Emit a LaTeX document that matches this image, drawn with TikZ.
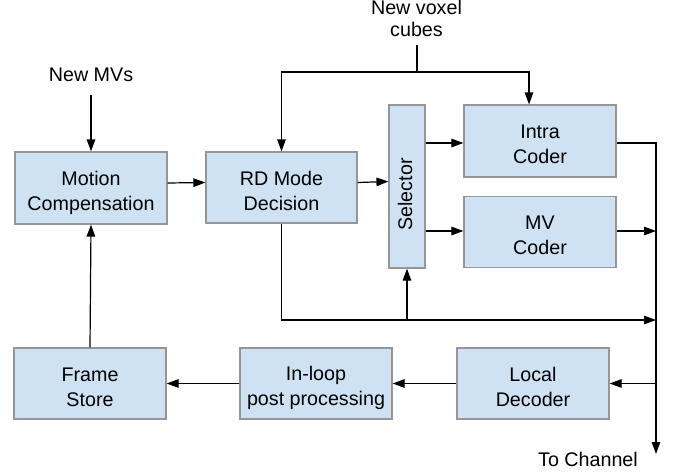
\documentclass[tikz,border=0pt]{standalone}
\usepackage{fontspec}
\setmainfont{Liberation Sans}
\usetikzlibrary{arrows.meta}
\definecolor{boxfill}{RGB}{207,226,243}
\definecolor{boxline}{RGB}{150,150,150}
% two-line caption with fixed top and bottom so every block sets its text alike
\newcommand\pairtext[2]{\rule{0pt}{24pt}#1\\#2\rule[-4pt]{0pt}{4pt}}
\tikzset{
  block/.style={draw=boxline, line width=1.2pt, fill=boxfill, align=center,
    inner sep=0pt, font=\fontsize{19.7}{25}\selectfont},
  lbl/.style={align=center, inner sep=0pt, font=\fontsize{19.7}{21.5}\selectfont},
  wire/.style={line width=1.2pt, black},
  arr/.style={wire, -{Triangle[length=12pt,width=8.5pt]}}
}
\begin{document}
\begin{tikzpicture}[x=1pt,y=-1pt]
\useasboundingbox (0,0) rectangle (677,474);

% processing blocks
\node[block, minimum width=152pt, minimum height=72pt] (mc) at (91,188) {\pairtext{Motion}{Compensation}};
\node[block, minimum width=151pt, minimum height=71pt] (rd) at (281.5,187.5) {\pairtext{RD Mode}{Decision}};
\node[block, minimum width=36pt, minimum height=163pt] (sel) at (407,186.5) {\rotatebox{90}{Selector}\rule{0pt}{88pt}\kern4pt};
\node[block, minimum width=152pt, minimum height=72pt] (intra) at (540,141) {\pairtext{Intra}{Coder}};
\node[block, minimum width=152pt, minimum height=71pt] (mv) at (540,232) {\pairtext{MV}{Coder}};
\node[block, minimum width=152pt, minimum height=71pt] (fs) at (90,383.5) {\pairtext{Frame}{Store}};
\node[block, minimum width=152pt, minimum height=71pt] (ilp) at (316,383.5) {\pairtext{In-loop}{post processing}};
\node[block, minimum width=152pt, minimum height=71pt] (ld) at (533,383.5) {\pairtext{Local}{Decoder}};

% external labels
\node[lbl] (nmv) at (91,75) {New MVs};
\node[lbl] (nvc) at (416.5,18.25) {\rule{0pt}{15pt}New voxel\\cubes};
\node[lbl] (tch) at (588,459) {To Channel};

% routing points
\coordinate (nvtop) at (417,45);
\coordinate (split) at (417,72);
\coordinate (intrain) at (529,72);
\coordinate (ch) at (656,454);
\coordinate (busr) at (656,320);

% input feeds
\draw[arr] (mc.north |- 0,95) -- (mc.north);
\draw[wire] (nvtop) -- (split);
\draw[arr] (split) -| (rd.north);
\draw[arr] (split) -- (intrain) -- (intrain |- intra.north);

% forward path
\draw[arr] ([yshift=5pt]mc.east) -- ([yshift=5pt]rd.west);
\draw[arr] ([yshift=5pt]rd.east) -- ([yshift=5pt]sel.west);
\draw[arr] (sel.east |- 0,143) -- (intra.west |- 0,143);
\draw[arr] (sel.east |- 0,231) -- (mv.west |- 0,231);

% output bus to channel
\draw[arr] (intra.east |- 0,143) -| (ch);
\draw[arr] (mv.east |- 0,231) -- (ch |- 0,231);
\draw[arr] (rd.south) |- (busr);
\draw[arr] (sel.south |- busr) -- (sel.south);

% reconstruction loop
\draw[arr] (ch |- ld.east) -- (ld.east);
\draw[arr] (ld.west) -- (ilp.east);
\draw[arr] (ilp.west) -- (fs.east);
\draw[arr] (fs.north) -- (mc.south);
\end{tikzpicture}
\end{document}
